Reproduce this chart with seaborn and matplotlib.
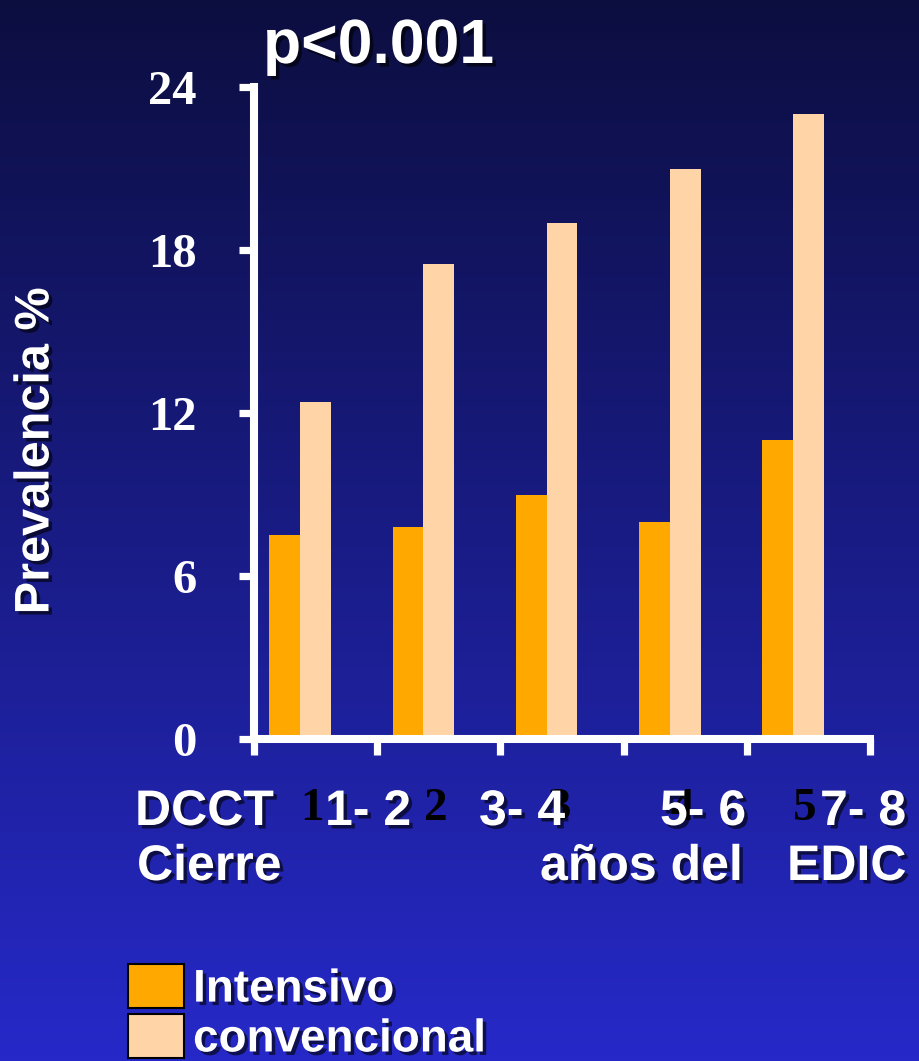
import numpy as np
import pandas as pd
import matplotlib
matplotlib.use("Agg")
import matplotlib.pyplot as plt
import matplotlib.patheffects as pe
import matplotlib.transforms as mtransforms
import seaborn as sns

# Prevalence (%) by follow-up period
periodos = ["1", "2", "3", "4", "5"]
intensivo = [7.5, 7.8, 9.0, 8.0, 11.0]
convencional = [12.4, 17.5, 19.0, 21.0, 23.0]
grupos = ["Intensivo", "convencional"]
colores = ["#FFA800", "#FFD5A8"]
yticks = [0, 6, 12, 18, 24]
titulo = "p<0.001"
etiqueta_y = "Prevalencia %"

# Period captions under the axis: (text, left px, baseline px)
linea1 = [("DCCT", 135, 825), ("1- 2", 325, 825), ("3- 4", 479, 825),
          ("5- 6", 660, 825), ("7- 8", 820, 825)]
linea2 = [("Cierre", 137, 880), ("años del", 540, 880), ("EDIC", 787, 880)]

df = pd.DataFrame({
    "periodo": periodos * 2,
    "grupo": [grupos[0]] * len(periodos) + [grupos[1]] * len(periodos),
    "prevalencia": intensivo + convencional,
})

sns.set_style("ticks")
plt.rcParams["font.family"] = ["Liberation Sans", "DejaVu Sans"]

W, H = 919, 1061
fig = plt.figure(figsize=(W / 100, H / 100), dpi=100)

# vertical blue gradient background
bg = fig.add_axes([0, 0, 1, 1], zorder=-10)
top = np.array([0x0C, 0x0E, 0x40]) / 255
bottom = np.array([0x26, 0x29, 0xC8]) / 255
t = np.linspace(0, 1, 256)[:, None]
grad = (top[None, :] * (1 - t) + bottom[None, :] * t)[:, None, :]
bg.imshow(grad, aspect="auto", extent=[0, 1, 0, 1], origin="upper")
bg.set_axis_off()

def px(x0, y0, x1, y1):
    return [x0 / W, 1 - y1 / H, (x1 - x0) / W, (y1 - y0) / H]

ax = fig.add_axes(px(254, 87, 870, 739))
ax.set_facecolor("none")

sns.barplot(data=df, x="periodo", y="prevalencia", hue="grupo",
            palette=colores, width=0.5, gap=0, saturation=1,
            errorbar=None, linewidth=0, ax=ax)

a = 0.375
ax.set_xlim(-a, len(periodos) - a)
ax.set_ylim(0, 24)

shadow = [pe.SimplePatchShadow(offset=(2.5, -2.5), shadow_rgbFace="black", alpha=0.6),
          pe.Normal()]

# spines
for s in ["top", "right"]:
    ax.spines[s].set_visible(False)
for s in ["left", "bottom"]:
    ax.spines[s].set_color("white")
    ax.spines[s].set_linewidth(5.8)

# y axis
ax.set_yticks(yticks)
ax.set_yticklabels([str(v) for v in yticks], fontfamily="Liberation Serif",
                   fontweight="bold", fontsize=35, color="white")
ax.tick_params(axis="y", which="major", color="white", width=5.2, length=10.5, pad=31)

# x axis: boundary ticks, period numbers under each group
pos = np.arange(len(periodos))
ax.set_xticks(np.arange(len(periodos) + 1) - a)
ax.set_xticklabels([])
ax.set_xticks(pos, minor=True)
ax.set_xticklabels(periodos, minor=True, fontfamily="Liberation Serif",
                   fontweight="bold", fontsize=34, color="black")
ax.tick_params(axis="x", which="major", color="white", width=5.2, length=11.5)
ax.tick_params(axis="x", which="minor", length=0, pad=35)
off = mtransforms.ScaledTranslation(12 / 100, 0, fig.dpi_scale_trans)
for lab in ax.get_xticklabels(minor=True):
    lab.set_transform(lab.get_transform() + off)

ax.set_xlabel("")
ax.set_ylabel(etiqueta_y, fontsize=35, fontweight="bold", color="white")
ax.yaxis.label.set_path_effects(shadow)
ax.yaxis.label.set_va("center")
ax.yaxis.set_label_coords((36 - 254) / 616, (739 - 451) / 652)

# legend
leg = ax.legend(loc="upper left", bbox_to_anchor=(128 / W, 1 - 964 / H),
                bbox_transform=fig.transFigure, frameon=False, fontsize=33,
                handlelength=1.22, handleheight=1.1, labelspacing=0.05,
                handletextpad=0.2, borderpad=0, borderaxespad=0)
for h in leg.legend_handles:
    h.set_edgecolor("black")
    h.set_linewidth(1.5)
for txt in leg.get_texts():
    txt.set_color("white")
    txt.set_fontweight("bold")
    txt.set_path_effects(shadow)

# title and period captions
fig.text(263 / W, 1 - 63 / H, titulo, fontsize=45, fontweight="bold",
         color="white", ha="left", va="baseline", path_effects=shadow)
for texto, x, y in linea1 + linea2:
    fig.text(x / W, 1 - y / H, texto, fontsize=36, fontweight="bold",
             color="white", ha="left", va="baseline", path_effects=shadow)

fig.savefig("out.png", dpi=100)
